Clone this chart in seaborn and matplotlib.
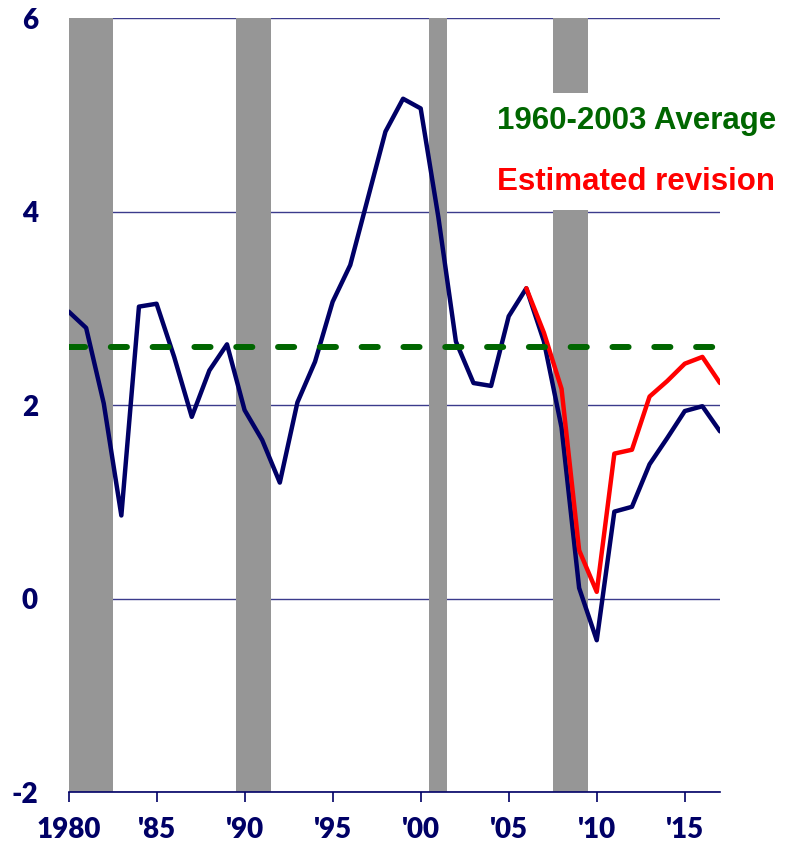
import numpy as np
import pandas as pd
import seaborn as sns
import matplotlib.pyplot as plt

# annual values
years = list(range(1980, 2018))
actual = [2.97, 2.80, 2.02, 0.86, 3.02, 3.05, 2.50, 1.88, 2.36, 2.63,
          1.95, 1.64, 1.20, 2.03, 2.45, 3.07, 3.45, 4.14, 4.83, 5.17,
          5.07, 3.95, 2.66, 2.23, 2.20, 2.92, 3.21, 2.66, 1.77, 0.11,
          -0.43, 0.90, 0.95, 1.39, 1.66, 1.94, 1.99, 1.73]
revision_years = list(range(2006, 2018))
revision = [3.21, 2.75, 2.17, 0.50, 0.07, 1.50, 1.54, 2.09, 2.25, 2.43, 2.50, 2.23]
average = 2.6

recession_start = [1979.5, 1989.5, 2000.5, 2007.5]
recession_end = [1982.5, 1991.5, 2001.5, 2009.5]

x_ticks = [1980, 1985, 1990, 1995, 2000, 2005, 2010, 2015]
x_labels = ['1980', "'85", "'90", "'95", "'00", "'05", "'10", "'15"]
y_ticks = [-2, 0, 2, 4, 6]
y_labels = ['-2', '0', '2', '4', '6']

NAVY = '#000066'

df = pd.DataFrame({'year': years, 'value': actual})
rev = pd.DataFrame({'year': revision_years, 'value': revision})

sns.set_style('white')
plt.rcParams['font.family'] = ['Lato', 'DejaVu Sans']

fig = plt.figure(figsize=(7.94, 8.48), dpi=100)
ax = fig.add_axes([0.0863, 0.066, 0.8205, 0.9122])

# recession shading
for start, end in zip(recession_start, recession_end):
    ax.axvspan(start, end, color='#969696', lw=0, zorder=1)

sns.lineplot(data=df, x='year', y='value', color=NAVY, linewidth=3.2,
             ax=ax, zorder=3, legend=False)
sns.lineplot(data=rev, x='year', y='value', color='#ff0000', linewidth=3.2,
             ax=ax, zorder=4, legend=False)
red_line = ax.lines[-1]
avg_line = ax.axhline(average, color='#006600', lw=4.3, linestyle=(0, (2.7, 4.3)),
                      dash_capstyle='round', zorder=5)

ax.set_xlim(1980, 2017)
ax.set_ylim(-2, 6)
ax.set_xlabel('')
ax.set_ylabel('')

ax.set_axisbelow(True)
ax.yaxis.grid(True, color='#3b3b8c', lw=1)
ax.xaxis.grid(False)

for side in ['left', 'top', 'right']:
    ax.spines[side].set_visible(False)
ax.spines['bottom'].set_color(NAVY)
ax.spines['bottom'].set_linewidth(1.2)

ax.set_xticks(x_ticks)
ax.set_xticklabels(x_labels, fontweight='heavy', color=NAVY, fontsize=20)
ax.set_yticks(y_ticks)
ax.set_yticklabels(y_labels, fontweight='heavy', color=NAVY, fontsize=20)
ax.tick_params(axis='x', bottom=True, direction='out', length=7, width=1.2,
               color=NAVY, pad=11)
ax.tick_params(axis='y', left=False, length=0, pad=22)

leg = ax.legend(handles=[avg_line, red_line],
                labels=['1960-2003 Average', 'Estimated revision'],
                loc='upper left', bbox_to_anchor=(0.6096, 0.8907),
                bbox_transform=fig.transFigure,
                frameon=True, facecolor='white', edgecolor='none', framealpha=1,
                fancybox=False, handlelength=0, handletextpad=0,
                labelcolor='linecolor', borderpad=0.42, labelspacing=1.0,
                borderaxespad=0,
                prop={'family': 'Liberation Sans', 'weight': 'bold', 'size': 22.5})
for h in leg.legend_handles:
    h.set_visible(False)

fig.savefig('out.png', dpi=100)
